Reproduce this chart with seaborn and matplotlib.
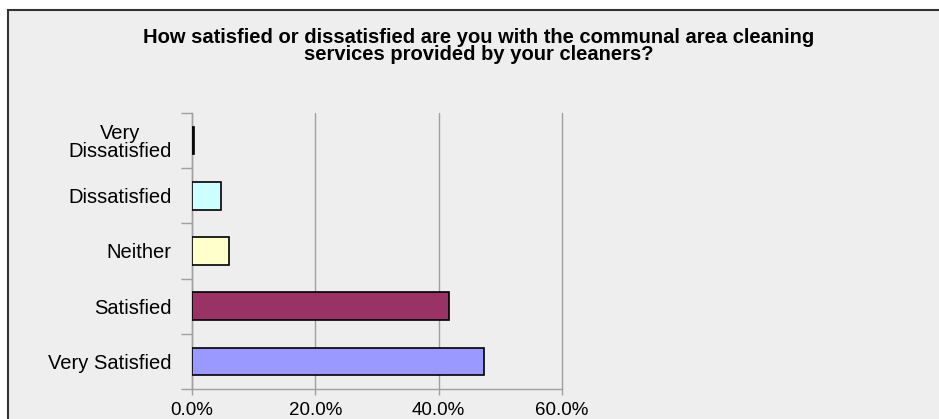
import matplotlib
matplotlib.use("Agg")
import matplotlib.pyplot as plt
from matplotlib.patches import Rectangle
from matplotlib.ticker import FixedLocator, PercentFormatter, NullFormatter
import seaborn as sns

# Survey responses (share of respondents, %)
categories = ["Very\nDissatisfied", "Dissatisfied", "Neither", "Satisfied", "Very Satisfied"]
shares = [0.3, 4.7, 6.0, 41.7, 47.3]
bar_colors = ["#333333", "#CCFFFF", "#FFFFCC", "#993366", "#9999FF"]
x_ticks = [0, 20, 40, 60]
title = ("How satisfied or dissatisfied are you with the communal area cleaning\n"
         "services provided by your cleaners?")

sns.set_theme(style="white")
plt.rcParams["font.family"] = ["Liberation Sans", "DejaVu Sans"]

W, H = 939, 419
fig = plt.figure(figsize=(W / 100, H / 100), dpi=100, facecolor="white")

# chart area panel with dark frame (continues past the right/bottom edge)
fig.patches.append(Rectangle((8 / W, -0.1), 1.2, 1 - 10 / H + 0.1,
                             transform=fig.transFigure, facecolor="#EEEEEE",
                             edgecolor="#333333", linewidth=1.5, zorder=-5))

ax = fig.add_axes([192 / W, 1 - 389 / H, (562 - 192) / W, (389 - 113) / H])
ax.set_zorder(2)
ax.set_facecolor("#EEEEEE")

sns.barplot(x=shares, y=categories, hue=categories, palette=bar_colors,
            saturation=1, legend=False, width=0.5, edgecolor="black",
            linewidth=1.2, orient="h", ax=ax, zorder=3)

ax.set_xlim(0, 60)
ax.set_ylim(4.5, -0.5)
ax.xaxis.set_major_locator(FixedLocator(x_ticks))
ax.xaxis.set_major_formatter(PercentFormatter(decimals=1))
ax.grid(axis="x", color="#A0A0A0", linewidth=1.0, zorder=0)
ax.grid(axis="y", visible=False)
for gl in ax.get_xgridlines():
    gl.set_clip_on(False)

for side in ("top", "right"):
    ax.spines[side].set_visible(False)
for side in ("left", "bottom"):
    ax.spines[side].set_visible(True)
    ax.spines[side].set_color("#A0A0A0")
    ax.spines[side].set_linewidth(1.0)

ax.tick_params(axis="x", which="major", direction="out", length=4, width=1.0,
               color="#A0A0A0", pad=5, labelsize=13.5, labelcolor="black", bottom=True)
ax.yaxis.set_minor_locator(FixedLocator([-0.5, 0.5, 1.5, 2.5, 3.5, 4.5]))
ax.yaxis.set_minor_formatter(NullFormatter())
ax.tick_params(axis="y", which="minor", direction="out", length=8, width=1.0,
               color="#A0A0A0", left=True)
ax.tick_params(axis="y", which="major", length=0, pad=14.5, labelsize=14.5,
               labelcolor="black", left=True)
for lbl in ax.get_yticklabels():
    lbl.set_multialignment("center")
    lbl.set_linespacing(0.95)
ax.set_xlabel("")
ax.set_ylabel("")

fig.text(479 / W, 1 - 46 / H, title, ha="center", va="center",
         fontsize=14.5, fontweight="bold", color="black", linespacing=0.92)

fig.savefig("out.png", dpi=100, facecolor="white")
